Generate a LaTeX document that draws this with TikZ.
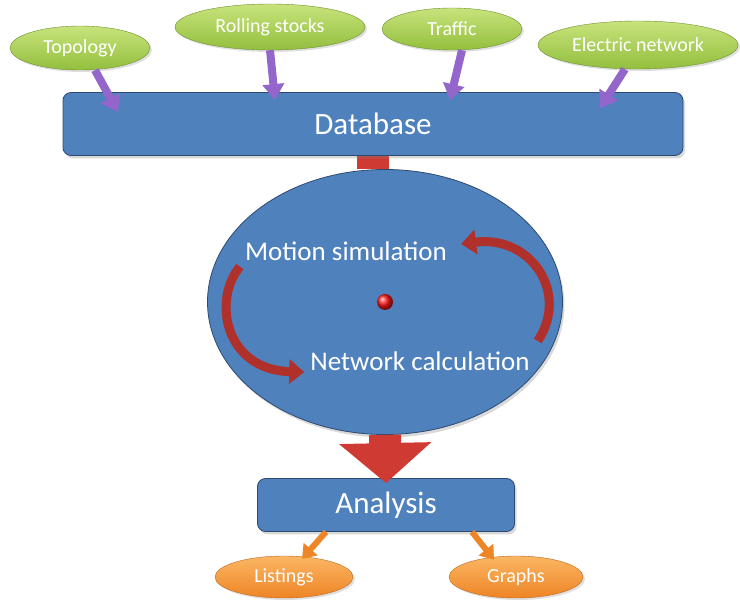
\documentclass[tikz,border=0pt]{standalone}
\usepackage{fontspec}
\setmainfont{Carlito}
\usepackage{xcolor}
\definecolor{cBlue}{HTML}{4F81BD}
\definecolor{cBlueDark}{HTML}{2C4A70}
\definecolor{cGreen}{HTML}{93BF3E}
\definecolor{cGreenLight}{HTML}{C8E37C}
\definecolor{cPurple}{HTML}{9466CC}
\definecolor{cRed}{HTML}{CF3A33}
\definecolor{cOrange}{HTML}{EE8526}
\definecolor{cOrangeLight}{HTML}{FBB663}
\usepackage{tikz}
\usetikzlibrary{positioning,arrows.meta,shapes.geometric,backgrounds,shadows}
\tikzset{
  node-box/.style={draw=cBlueDark,thick,fill=cBlue,rounded corners=8pt,
    text=white,inner sep=0pt,drop shadow={opacity=0.3,shadow xshift=2pt,shadow yshift=-3pt}},
  node-in/.style={ellipse,draw=cGreen!75!black,top color=cGreenLight,bottom color=cGreen,
    text=white,inner sep=0pt,font=\fontsize{20}{24}\selectfont,
    drop shadow={opacity=0.25,shadow xshift=2pt,shadow yshift=-2pt}},
  node-out/.style={ellipse,draw=cOrange!80!black,top color=cOrangeLight,bottom color=cOrange,
    text=white,inner sep=0pt,font=\fontsize{20}{24}\selectfont,
    drop shadow={opacity=0.25,shadow xshift=2pt,shadow yshift=-2pt}},
  node-core/.style={ellipse,draw=cBlueDark,thick,fill=cBlue,inner sep=0pt,
    drop shadow={opacity=0.3,shadow xshift=2pt,shadow yshift=-3pt}},
  node-step/.style={text=white,inner sep=0pt,font=\fontsize{27}{30}\selectfont},
  arrow-in/.style={-{Triangle[length=16pt,width=21pt]},line width=8pt,draw=cPurple},
  arrow-out/.style={-{Triangle[length=13pt,width=18pt]},line width=6pt,draw=cOrange},
  arrow-loop/.style={-{Triangle[length=15pt,width=24pt]},line width=9pt,draw=cRed!85!black},
  arrow-flow/.style={line width=32pt,draw=cRed},
}

\begin{document}
\begin{tikzpicture}[x=1pt,y=-1pt]
  \useasboundingbox (0,0) rectangle (740,601);
  % inputs
  \foreach \name/\txt/\x/\y/\w/\h in {topo/Topology/80/48/140/44,
      rolling/Rolling stocks/270/27/190/46, traffic/Traffic/452/29/140/42,
      elec/Electric network/638/45/200/48} {
    \node[node-in,minimum width=\w pt,minimum height=\h pt] (\name) at (\x,\y) {\txt};
  }
  \node[node-box,minimum width=620pt,minimum height=63pt,
    font=\fontsize{31}{34}\selectfont] (db) at (373,124) {Database};
  \foreach \name/\dx/\ex/\ey in {topo/15/-255/-20, rolling/0/-98/-8,
      traffic/10/77/-8, elec/-13/227/-16} {
    \draw[arrow-in] ([xshift=\dx pt]\name.south) -- ([xshift=\ex pt,yshift=\ey pt]db.north);
  }
  % simulation loop
  \node[node-core,minimum width=355pt,minimum height=265pt] (sim) at (385,302) {};
  \begin{scope}[on background layer]
    \draw[arrow-flow] (db.south) -- (db.south |- sim.north);
  \end{scope}
  \node[circle,ball color=red!90!white,minimum size=16pt,inner sep=0pt] (hub) at (sim.center) {};
  \node[node-step] (motion) at (346,251) {Motion simulation};
  \node[node-step] (network) at (420,361) {Network calculation};
  \draw[arrow-loop] ([xshift=-5pt,yshift=-6pt]motion.south west)
    .. controls (212,300) and (225,370) .. ([xshift=-6pt,yshift=-11pt]network.west);
  \draw[arrow-loop] ([xshift=8pt,yshift=20pt]network.east)
    .. controls (570,292) and (530,235) .. ([xshift=14pt,yshift=7pt]motion.east);
  % results
  \node[node-box,minimum width=257pt,minimum height=53pt,
    font=\fontsize{31}{34}\selectfont] (ana) at (386,505) {Analysis};
  \draw[arrow-flow,-{Triangle[length=40pt,width=90pt]}] (sim.south) -- ([yshift=-5pt]ana.north);
  \node[node-out,minimum width=138pt,minimum height=42pt] (lst) at (284,577) {Listings};
  \node[node-out,minimum width=134pt,minimum height=42pt] (gra) at (516,577) {Graphs};
  \draw[arrow-out] ([xshift=-60pt]ana.south) -- ([xshift=18pt,yshift=-3pt]lst.north);
  \draw[arrow-out] ([xshift=86pt]ana.south) -- ([xshift=-22pt,yshift=-4pt]gra.north);
\end{tikzpicture}
\end{document}
